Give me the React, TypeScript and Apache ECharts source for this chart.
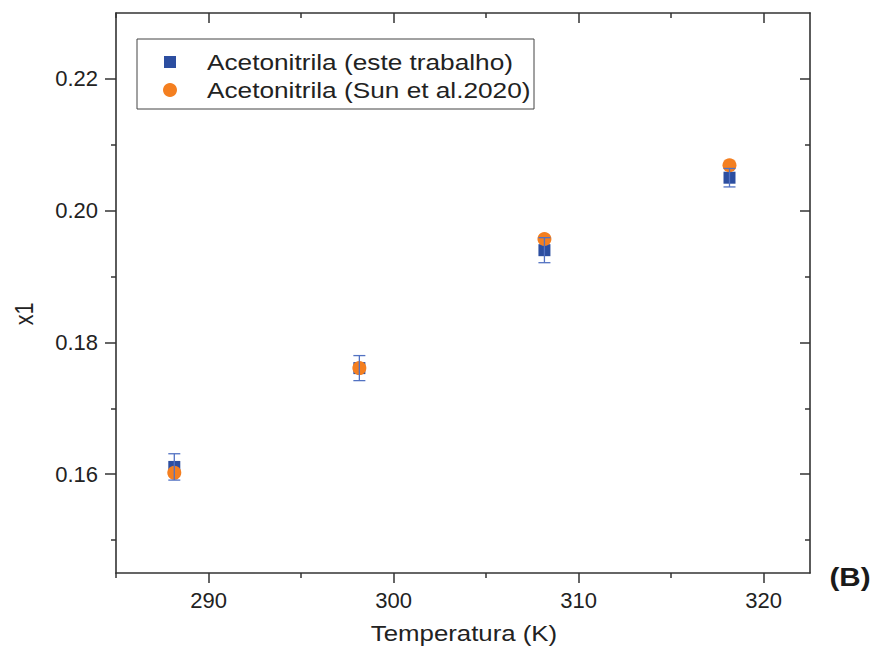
import React, { useEffect, useRef } from "react";
import * as echarts from "echarts";

const temperatures = [288.15, 298.15, 308.15, 318.15];
const x1ThisWork = [0.1611, 0.1761, 0.194, 0.205];
const x1Error = [0.002, 0.0019, 0.0019, 0.0014];
const x1Sun = [0.1602, 0.1761, 0.1957, 0.2069];

const xMajorTicks = [290, 300, 310, 320];
const xMinorTicks = [285, 295, 305, 315];
const yMajorTicks = [0.16, 0.18, 0.2, 0.22];
const yMinorTicks = [0.15, 0.17, 0.19, 0.21];

const legendNames = ["Acetonitrila (este trabalho)", "Acetonitrila (Sun et al.2020)"];

const BLUE = "#2c4ea0";
const ORANGE = "#f47f20";
const ERR = "#5272c2";
const AXIS = "#333333";
const FONT = "'Liberation Sans', Arial, Helvetica, sans-serif";

export default function App() {
  const ref = useRef<HTMLDivElement>(null);
  useEffect(() => {
    if (!ref.current) return;
    const chart = echarts.init(ref.current, null, { renderer: "svg" });
    const xMin = 285, xMax = 322.5, yMin = 0.145, yMax = 0.23;
    const axLine = { show: true, onZero: false, lineStyle: { color: AXIS, width: 1.6 } };
    const noLine = { show: false };
    const mkX = (pos: string, ticks: number[], len: number, inside: boolean, line: boolean, labels: boolean) => ({
      type: "value", position: pos, min: xMin, max: xMax, splitLine: { show: false },
      axisLine: line ? axLine : noLine,
      axisTick: { show: true, inside, length: len, customValues: ticks, lineStyle: { color: AXIS, width: 1.5 } },
      axisLabel: labels
        ? { show: true, customValues: ticks, fontSize: 22, color: "#222", fontFamily: FONT, margin: 16 }
        : { show: false },
    });
    const mkY = (pos: string, ticks: number[], len: number, inside: boolean, line: boolean, labels: boolean) => ({
      type: "value", position: pos, min: yMin, max: yMax, splitLine: { show: false },
      axisLine: line ? axLine : noLine,
      axisTick: { show: true, inside, length: len, customValues: ticks, lineStyle: { color: AXIS, width: 1.5 } },
      axisLabel: labels
        ? { show: true, customValues: ticks, fontSize: 22, color: "#222", fontFamily: FONT, margin: 18,
            formatter: (v: number) => v.toFixed(2) }
        : { show: false },
    });
    const option: any = {
      animation: false,
      grid: { left: 116, right: 64, top: 13, bottom: 87, containLabel: false },
      xAxis: [
        mkX("bottom", xMajorTicks, 10, false, true, true),
        mkX("bottom", xMinorTicks, 5, false, false, false),
        mkX("top", xMajorTicks, 10, true, true, false),
        mkX("top", xMinorTicks, 5, true, false, false),
      ],
      yAxis: [
        mkY("left", yMajorTicks, 11, false, true, true),
        mkY("left", yMinorTicks, 5, false, false, false),
        mkY("right", yMajorTicks, 10, true, true, false),
        mkY("right", yMinorTicks, 5, true, false, false),
      ],
      series: [
        {
          name: legendNames[0],
          type: "scatter",
          symbol: "rect",
          symbolSize: 12,
          itemStyle: { color: BLUE, opacity: 1 },
          data: temperatures.map((t, i) => [t, x1ThisWork[i]]),
          z: 2,
        },
        {
          name: legendNames[1],
          type: "scatter",
          symbol: "circle",
          symbolSize: 14,
          itemStyle: { color: ORANGE, opacity: 1 },
          data: temperatures.map((t, i) => [t, x1Sun[i]]),
          z: 3,
        },
        {
          type: "custom",
          z: 4,
          encode: { x: 0, y: 1 },
          data: temperatures.map((t, i) => [t, x1ThisWork[i], x1Error[i]]),
          renderItem: (params: any, api: any) => {
            const x = api.value(0), y = api.value(1), e = api.value(2);
            const top = api.coord([x, y + e]);
            const bot = api.coord([x, y - e]);
            const hw = 6;
            const st = { stroke: ERR, lineWidth: 1.3 };
            return {
              type: "group",
              children: [
                { type: "line", shape: { x1: top[0], y1: top[1], x2: bot[0], y2: bot[1] }, style: st },
                { type: "line", shape: { x1: top[0] - hw, y1: top[1], x2: top[0] + hw, y2: top[1] }, style: st },
                { type: "line", shape: { x1: bot[0] - hw, y1: bot[1], x2: bot[0] + hw, y2: bot[1] }, style: st },
              ],
            };
          },
        },
      ],
      graphic: [
        {
          type: "rect",
          shape: { x: 137, y: 39, width: 397, height: 70 },
          style: { fill: "#fff", stroke: "#444", lineWidth: 1 },
          z: 10,
        },
        { type: "rect", shape: { x: 164, y: 56, width: 12, height: 12 }, style: { fill: BLUE }, z: 11 },
        { type: "circle", shape: { cx: 170, cy: 90, r: 7 }, style: { fill: ORANGE }, z: 11 },
        {
          type: "text", x: 207, y: 62, scaleX: 1.22, z: 11,
          style: { text: legendNames[0], font: `21.5px ${FONT}`, fill: "#222", verticalAlign: "middle", align: "left" },
        },
        {
          type: "text", x: 207, y: 90, scaleX: 1.22, z: 11,
          style: { text: legendNames[1], font: `21.5px ${FONT}`, fill: "#222", verticalAlign: "middle", align: "left" },
        },
        {
          type: "text", x: 464, y: 634, scaleX: 1.2, z: 11,
          style: { text: "Temperatura (K)", font: `21.5px ${FONT}`, fill: "#222", verticalAlign: "middle", align: "center" },
        },
        {
          type: "text", x: 24, y: 314, rotation: Math.PI / 2, scaleY: 1.2, z: 11,
          style: { text: "x1", font: `21.5px ${FONT}`, fill: "#222", verticalAlign: "middle", align: "center" },
        },
        {
          type: "text", x: 850, y: 577, scaleX: 1.14, z: 11,
          style: { text: "(B)", font: `bold 26px ${FONT}`, fill: "#1a1a1a", verticalAlign: "middle", align: "center" },
        },
      ],
    };
    chart.setOption(option);
    return () => chart.dispose();
  }, []);
  return (
    <div
      ref={ref}
      style={{ position: "fixed", left: 0, top: 0, width: 874, height: 660, background: "#fff" }}
    />
  );
}
